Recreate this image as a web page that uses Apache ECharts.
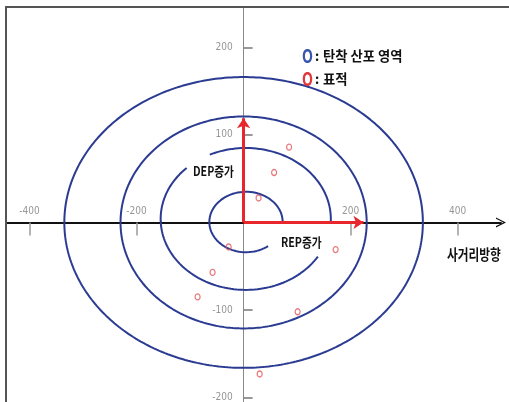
<!DOCTYPE html>
<html><head><meta charset="utf-8">
<script src="https://cdn.jsdelivr.net/npm/echarts@6/dist/echarts.min.js"></script>
<style>html,body{margin:0;padding:0;background:#fff}#c{width:509px;height:402px}</style>
</head><body><div id="c"></div>
<script>
// ---- data ----
const xTickValues = [-400, -200, 200, 400];
const yTickValues = [200, 100, -100, -200];
// ring parameters: [centerX, centerY, radiusX, radiusY, startDeg, endDeg]
const outerRing   = [0, 0, 335, 166, 0, 360];
const middleRing  = [0, 0, 230, 121, 0, 360];
const spiralBigA  = [4, 4, 159, 81, -3, 115];
const spiralBigB  = [4, 4, 159, 81, 134, 328];
const spiralSmall = [4.5, 0.5, 68.5, 34.5, -1, 307];
// targets (표적)
const targetX = [85, 57, 28, -28, -58, -86, 172, 101, 30];
const targetY = [86, 57, 28, -28, -57, -85, -31, -102, -173];
// arrows
const repArrowEnd = [224, 0];
const depArrowEnd = [0, 119];
const legendTexts = ['탄착 산포 영역', '표적'];
const xAxisName = '사거리방향';
const depLabel = 'DEP증가';
const repLabel = 'REP증가';

function arcPoints(p) {
  const [cx, cy, rx, ry, s, e] = p;
  const pts = [];
  for (let d = s; d < e; d += 1) {
    const t = d * Math.PI / 180;
    pts.push([cx + rx * Math.cos(t), cy + ry * Math.sin(t)]);
  }
  const t = e * Math.PI / 180;
  pts.push([cx + rx * Math.cos(t), cy + ry * Math.sin(t)]);
  return pts;
}

const ringColor = '#2b3b92';
const redColor = '#e8262b';
const korFont = '"Noto Sans CJK KR", sans-serif';
const numFont = '"Liberation Sans Narrow", "DejaVu Sans Condensed", "Liberation Sans", sans-serif';

function ringSeries(p) {
  return {
    type: 'line', data: arcPoints(p), showSymbol: false, silent: true,
    lineStyle: { color: ringColor, width: 2 }, z: 3, animation: false
  };
}

const chart = echarts.init(document.getElementById('c'), null, { renderer: 'canvas' });
chart.setOption({
  animation: false,
  backgroundColor: '#fff',
  grid: { left: 6, right: 8, top: 7, bottom: 0, containLabel: false, outerBoundsMode: 'none' },
  xAxis: {
    type: 'value', min: -444, max: 481,
    splitLine: { show: false },
    axisLine: {
      onZero: true,
      lineStyle: { color: '#111', width: 2 },
      symbol: ['none', 'path://M0,10 L5,0 L10,10 L8.6,10 L5,2.6 L1.4,10 Z'],
      symbolSize: [11, 10]
    },
    axisTick: { show: true, inside: false, length: 13, customValues: xTickValues, lineStyle: { color: '#9a9a9a', width: 1.5 } },
    axisLabel: { show: false }
  },
  yAxis: {
    type: 'value', min: -205, max: 246,
    splitLine: { show: false },
    axisLine: { onZero: true, lineStyle: { color: '#8a8a8a', width: 1 } },
    axisTick: { show: true, inside: true, length: 9, customValues: yTickValues, lineStyle: { color: '#777', width: 1.5 } },
    axisLabel: { show: false }
  },
  series: [
    ringSeries(outerRing),
    ringSeries(middleRing),
    ringSeries(spiralBigA),
    ringSeries(spiralBigB),
    ringSeries(spiralSmall),
    {
      type: 'lines', coordinateSystem: 'cartesian2d', silent: true, z: 5,
      symbol: ['none', 'arrow'], symbolSize: 10,
      lineStyle: { color: redColor, width: 3, opacity: 1 },
      data: [{ coords: [[0, 0], repArrowEnd] }, { coords: [[0, 0], depArrowEnd] }]
    },
    {
      type: 'scatter', silent: true, z: 6,
      symbol: 'circle', symbolSize: [5, 6],
      itemStyle: { color: 'rgba(0,0,0,0)', borderColor: '#e0585c', borderWidth: 1.3 },
      data: targetX.map((x, i) => [x, targetY[i]])
    },
    {
      // x tick labels (above the axis)
      type: 'scatter', silent: true, z: 7, symbolSize: 0,
      label: { show: true, position: 'top', distance: 6, color: '#7a7a7a', fontSize: 10, fontFamily: numFont,
        formatter: p => String(p.value[0]) },
      data: xTickValues.map(v => [v, 0])
    },
    {
      // y tick labels (left of the axis)
      type: 'scatter', silent: true, z: 7, symbolSize: 0,
      label: { show: true, position: 'left', distance: 11, color: '#7a7a7a', fontSize: 10, fontFamily: numFont,
        formatter: p => String(p.value[1]) },
      data: yTickValues.map(v => [0, v])
    }
  ],
  graphic: [
    { type: 'rect', shape: { x: 6, y: 7, width: 620, height: 500 }, style: { fill: 'none', stroke: '#555', lineWidth: 2 }, silent: true, z: 100 },
    { type: 'text', x: 302, y: 56, scaleX: 0.75, style: { text: 'O', fill: '#3a55b0', font: 'bold 19px ' + korFont, textVerticalAlign: 'middle' }, z: 100 },
    { type: 'text', x: 315, y: 56, style: { text: ':', fill: '#111', font: 'bold 13px ' + korFont, textVerticalAlign: 'middle' }, z: 100 },
    { type: 'text', x: 323, y: 56, scaleX: 0.95, style: { text: legendTexts[0], fill: '#111', font: 'bold 14px ' + korFont, textVerticalAlign: 'middle' }, z: 100 },
    { type: 'text', x: 302, y: 79, scaleX: 0.75, style: { text: 'O', fill: '#e0383c', font: 'bold 19px ' + korFont, textVerticalAlign: 'middle' }, z: 100 },
    { type: 'text', x: 315, y: 79, style: { text: ':', fill: '#111', font: 'bold 13px ' + korFont, textVerticalAlign: 'middle' }, z: 100 },
    { type: 'text', x: 323, y: 79, scaleX: 0.95, style: { text: legendTexts[1], fill: '#111', font: 'bold 14px ' + korFont, textVerticalAlign: 'middle' }, z: 100 },
    { type: 'text', x: 193, y: 171, scaleX: 0.82, style: { text: depLabel, fill: '#111', font: 'bold 13px ' + korFont, textVerticalAlign: 'middle' }, z: 100 },
    { type: 'text', x: 281, y: 242, scaleX: 0.82, style: { text: repLabel, fill: '#111', font: 'bold 13px ' + korFont, textVerticalAlign: 'middle' }, z: 100 },
    { type: 'text', x: 447, y: 254, scaleX: 0.78, style: { text: xAxisName, fill: '#111', font: 'bold 15px ' + korFont, textVerticalAlign: 'middle' }, z: 100 }
  ]
});
</script></body></html>
